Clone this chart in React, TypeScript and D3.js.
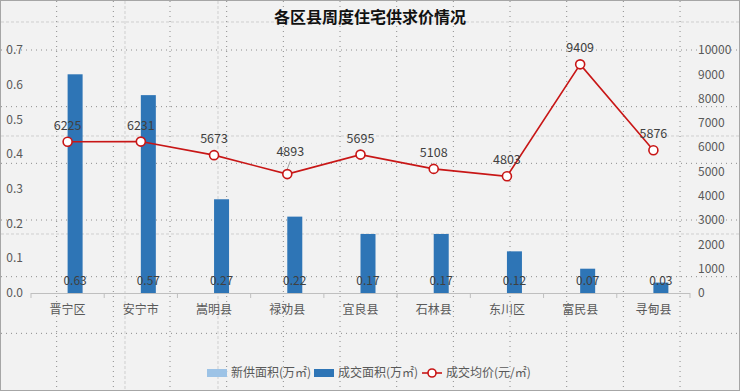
import React from 'react';
import * as d3 from 'd3';

const categories = ['晋宁区', '安宁市', '嵩明县', '禄劝县', '宜良县', '石林县', '东川区', '富民县', '寻甸县'];
const newSupply = [0, 0, 0, 0, 0, 0, 0, 0, 0];
const dealArea = [0.63, 0.57, 0.27, 0.22, 0.17, 0.17, 0.12, 0.07, 0.03];
const avgPrice = [6225, 6231, 5673, 4893, 5695, 5108, 4803, 9409, 5876];
const leftTicks = [0, 0.1, 0.2, 0.3, 0.4, 0.5, 0.6, 0.7];
const rightTicks = [0, 1000, 2000, 3000, 4000, 5000, 6000, 7000, 8000, 9000, 10000];
const seriesNames = ['新供面积(万㎡)', '成交面积(万㎡)', '成交均价(元/㎡)'];

const W = 740;
const H = 391;
const font = '"Noto Sans CJK SC", "Noto Sans", sans-serif';
const red = '#c81616';
const blue = '#2e75b6';
const lightBlue = '#9dc3e6';

const App = () => {
  const margin = { top: 50, right: 50, bottom: 98, left: 31 };
  const plotBottom = H - margin.bottom;

  const x = d3.scaleBand().domain(categories).range([margin.left, W - margin.right]);
  const inner = d3.scaleBand().domain(['new', 'deal']).range([0, 30]);
  const yL = d3.scaleLinear().domain([0, 0.7]).range([plotBottom, margin.top]);
  const yR = d3.scaleLinear().domain([0, 10000]).range([plotBottom, margin.top]);

  const cx = (c: string) => (x(c) as number) + x.bandwidth() / 2;
  const line = d3.line<number>()
    .x((_, i) => cx(categories[i]))
    .y(d => yR(d));

  // background grid seen behind the chart
  const step = 56.67;
  const dotV = d3.range(1, 13).map(k => k * step);
  const dotH = d3.range(0, 6).map(k => 50 + k * step);
  const dashH = [22, 136, 234];
  const dashV = [125, 218];

  const bandEdges = categories.map(c => x(c) as number).concat([W - margin.right]);

  return (
    <svg width={W} height={H} style={{ position: 'absolute', left: 0, top: 0, fontFamily: font }}>
      <rect x={0.5} y={0.5} width={W - 1} height={H - 1} fill="#f2f2f2" stroke="#a6a6a6" />
      {dashH.map(y => (
        <line key={'dh' + y} x1={1} x2={W - 1} y1={y} y2={y} stroke="#cfcfcf" strokeDasharray="3 2" />
      ))}
      {dashV.map(v => (
        <line key={'dv' + v} x1={v} x2={v} y1={1} y2={H - 1} stroke="#cfcfcf" strokeDasharray="3 2" />
      ))}
      {dotH.map(y => (
        <line key={'oh' + y} x1={1} x2={W - 1} y1={y} y2={y} stroke="#8c8c8c" strokeDasharray="1 4" />
      ))}
      {dotV.map(v => (
        <line key={'ov' + v} x1={v} x2={v} y1={1} y2={H - 1} stroke="#8c8c8c" strokeDasharray="1 4" />
      ))}

      <text x={W / 2} y={23} textAnchor="middle" fontSize={16} fontWeight="bold" fill="#111">
        各区县周度住宅供求价情况
      </text>

      {leftTicks.map(t => (
        <text key={'l' + t} x={23} y={yL(t)} dy="0.35em" textAnchor="end" fontSize={12} fill="#595959">
          {t.toFixed(1)}
        </text>
      ))}
      {rightTicks.map(t => (
        <text key={'r' + t} x={698} y={yR(t)} dy="0.35em" textAnchor="start" fontSize={12} fill="#595959">
          {t}
        </text>
      ))}

      {categories.map((c, i) => (
        <g key={c}>
          <rect x={cx(c) - 15 + (inner('new') as number)} y={yL(newSupply[i])}
            width={inner.bandwidth()} height={plotBottom - yL(newSupply[i])} fill={lightBlue} />
          <rect x={cx(c) - 15 + (inner('deal') as number)} y={yL(dealArea[i])}
            width={inner.bandwidth()} height={plotBottom - yL(dealArea[i])} fill={blue} />
        </g>
      ))}

      <line x1={margin.left} x2={W - margin.right} y1={plotBottom + 0.5} y2={plotBottom + 0.5} stroke="#bfbfbf" />
      {bandEdges.map((e, i) => (
        <line key={'t' + i} x1={e} x2={e} y1={plotBottom} y2={plotBottom + 5} stroke="#bfbfbf" />
      ))}
      {categories.map(c => (
        <text key={'c' + c} x={cx(c)} y={310} dy="0.35em" textAnchor="middle" fontSize={12} fill="#595959">
          {c}
        </text>
      ))}

      {categories.map((c, i) => (
        <text key={'v' + c} x={cx(c) - 15 + (inner('deal') as number) + inner.bandwidth() / 2} y={285}
          textAnchor="middle" fontSize={12} fill="#404040">
          {dealArea[i].toFixed(2)}
        </text>
      ))}

      <path d={line(avgPrice) || ''} fill="none" stroke={red} strokeWidth={1.6} />
      {avgPrice.map((p, i) => {
        const px = cx(categories[i]);
        const py = yR(p);
        const lifted = i === 3;
        return (
          <g key={'p' + i}>
            {lifted && <line x1={px + 3} y1={py - 13} x2={px} y2={py - 5} stroke="#a0a0a0" />}
            <circle cx={px} cy={py} r={4.5} fill="#fff" stroke={red} strokeWidth={1.6} />
            <text x={lifted ? px + 3 : px} y={py - (lifted ? 18 : 12)} textAnchor="middle" fontSize={12.5} fill="#404040">
              {p}
            </text>
          </g>
        );
      })}

      <g fontSize={12} fill="#595959">
        <rect x={207} y={369} width={20} height={8} fill={lightBlue} />
        <text x={231} y={373} dy="0.35em">{seriesNames[0]}</text>
        <rect x={314} y={369} width={20} height={8} fill={blue} />
        <text x={338} y={373} dy="0.35em">{seriesNames[1]}</text>
        <line x1={422} x2={442} y1={373} y2={373} stroke={red} strokeWidth={1.6} />
        <circle cx={432} cy={373} r={4} fill="#fff" stroke={red} strokeWidth={1.6} />
        <text x={446} y={373} dy="0.35em">{seriesNames[2]}</text>
      </g>
    </svg>
  );
};

export default App;
